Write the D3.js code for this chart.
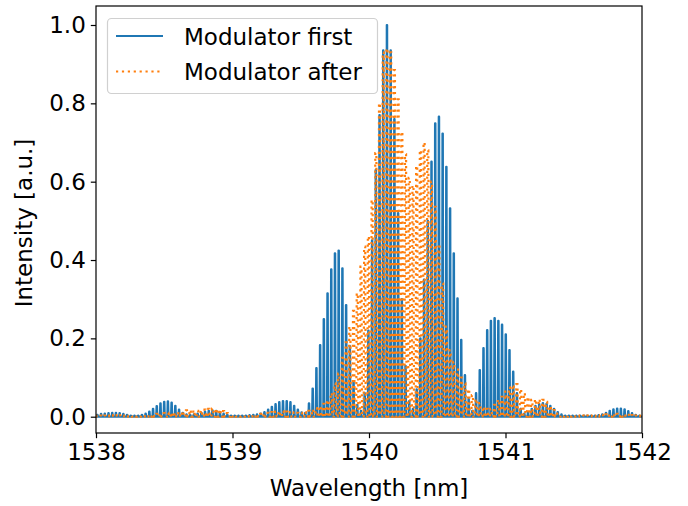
<!DOCTYPE html>
<html>
<head>
<meta charset="utf-8">
<script src="https://cdn.jsdelivr.net/npm/d3@7"></script>
<style>
  body { margin: 0; background: #fff; }
  text { font-family: "DejaVu Sans", sans-serif; fill: #000; }
</style>
</head>
<body>
<div id="canvas"></div>
<script>
// comb lines: first line and spacing (nm), heights
const combStart = 1538.010;
const combSpacing = 0.0272;

const modulatorFirst = [
  0.005, 0.007, 0.008, 0.009, 0.010, 0.010, 0.009, 0.007, 0.005, 0.003,
  0.003, 0.003, 0.005, 0.008, 0.013, 0.020, 0.027, 0.034, 0.038, 0.039,
  0.036, 0.028, 0.018, 0.010, 0.006, 0.005, 0.006, 0.008, 0.010, 0.013,
  0.015, 0.016, 0.015, 0.012, 0.008, 0.005, 0.003, 0.003, 0.003, 0.003,
  0.003, 0.004, 0.005, 0.006, 0.008, 0.012, 0.018, 0.025, 0.032, 0.037,
  0.040, 0.040, 0.037, 0.028, 0.018, 0.011, 0.010, 0.034, 0.072, 0.124,
  0.183, 0.249, 0.315, 0.376, 0.417, 0.424, 0.379, 0.285, 0.180, 0.090,
  0.030, 0.015, 0.060, 0.220, 0.450, 0.630, 0.770, 0.935, 1.000, 0.935,
  0.760, 0.520, 0.300, 0.130, 0.040, 0.020, 0.070, 0.200, 0.350, 0.500,
  0.651, 0.749, 0.766, 0.723, 0.638, 0.532, 0.417, 0.302, 0.196, 0.106,
  0.045, 0.015, 0.060, 0.119, 0.175, 0.221, 0.245, 0.252, 0.245, 0.235,
  0.210, 0.170, 0.115, 0.060, 0.020, 0.008, 0.012, 0.020, 0.028, 0.032,
  0.035, 0.033, 0.028, 0.020, 0.012, 0.006, 0.003, 0.003, 0.003, 0.003,
  0.003, 0.003, 0.003, 0.003, 0.003, 0.004, 0.006, 0.010, 0.015, 0.019,
  0.021, 0.021, 0.019, 0.014, 0.009, 0.005, 0.003
];

const modulatorAfter = [
  0.003, 0.003, 0.003, 0.003, 0.004, 0.004, 0.004, 0.003, 0.003, 0.003,
  0.003, 0.003, 0.003, 0.004, 0.005, 0.006, 0.007, 0.008, 0.009, 0.010,
  0.010, 0.010, 0.012, 0.014, 0.016, 0.017, 0.016, 0.015, 0.016, 0.018,
  0.020, 0.021, 0.020, 0.018, 0.014, 0.009, 0.005, 0.004, 0.003, 0.003,
  0.003, 0.004, 0.005, 0.006, 0.007, 0.008, 0.010, 0.012, 0.013, 0.014,
  0.014, 0.013, 0.012, 0.011, 0.010, 0.010, 0.012, 0.015, 0.018, 0.022,
  0.027, 0.033, 0.042, 0.060, 0.085, 0.110, 0.150, 0.190, 0.230, 0.270,
  0.315, 0.383, 0.434, 0.460, 0.553, 0.673, 0.800, 0.930, 0.940, 0.930,
  0.885, 0.810, 0.727, 0.670, 0.610, 0.590, 0.640, 0.680, 0.700, 0.680,
  0.600, 0.536, 0.434, 0.340, 0.230, 0.170, 0.140, 0.120, 0.100, 0.085,
  0.070, 0.055, 0.045, 0.035, 0.025, 0.020, 0.020, 0.030, 0.043, 0.051,
  0.064, 0.075, 0.081, 0.083, 0.070, 0.060, 0.050, 0.043, 0.044, 0.044,
  0.043, 0.038, 0.027, 0.017, 0.008, 0.004, 0.004, 0.004, 0.003, 0.003,
  0.003, 0.003, 0.003, 0.003, 0.003, 0.004, 0.005, 0.006, 0.006, 0.007,
  0.007, 0.006, 0.006, 0.005, 0.004, 0.003, 0.003
];

const seriesNames = ["Modulator first", "Modulator after"];
const wavelengthTicks = [1538, 1539, 1540, 1541, 1542];
const intensityTicks = [0.0, 0.2, 0.4, 0.6, 0.8, 1.0];

const width = 688;
const height = 506;
const margin = { top: 6, left: 96, bottom: 73, right: 46 };
const iwidth = width - margin.left - margin.right;
const iheight = height - margin.top - margin.bottom;

const svg = d3.select("#canvas").append("svg")
  .attr("width", width)
  .attr("height", height);

const g = svg.append("g")
  .attr("transform", `translate(${margin.left},${margin.top})`);

const x = d3.scaleLinear().domain([1538, 1542]).range([0, iwidth]);
const y = d3.scaleLinear().domain([-0.0416, 1.0485]).range([iheight, 0]);

svg.append("defs").append("clipPath").attr("id", "plot-clip")
  .append("rect").attr("width", iwidth).attr("height", iheight);

// each comb line is a narrow spike up from the baseline
const combPoints = (peaks, base, top) => {
  const pts = [[1538, 0]];
  peaks.forEach((p, i) => {
    const w = combStart + i * combSpacing;
    pts.push([w - base, 0], [w - top, p], [w + top, p], [w + base, 0]);
  });
  pts.push([1542, 0]);
  return pts;
};

const line = d3.line().x((d) => x(d[0])).y((d) => y(d[1]));

const plot = g.append("g").attr("clip-path", "url(#plot-clip)");

plot.append("path")
  .datum(combPoints(modulatorFirst, 0.004, 0.0012))
  .attr("d", line)
  .attr("fill", "none")
  .attr("stroke", "#1f77b4")
  .attr("stroke-width", 2.2)
  .attr("stroke-linejoin", "round");

plot.append("path")
  .datum(combPoints(modulatorAfter, 0.0075, 0.004))
  .attr("d", line)
  .attr("fill", "none")
  .attr("stroke", "#ff7f0e")
  .attr("stroke-width", 2.2)
  .attr("stroke-dasharray", "2.2,3.7");

// axes
const xAxis = g.append("g")
  .attr("transform", `translate(0,${iheight})`)
  .call(d3.axisBottom(x).tickValues(wavelengthTicks).tickFormat(d3.format("d")).tickSize(5.2).tickPadding(5));

const yAxis = g.append("g")
  .call(d3.axisLeft(y).tickValues(intensityTicks).tickFormat(d3.format(".1f")).tickSize(5.2).tickPadding(5));

[xAxis, yAxis].forEach((a) => {
  a.select(".domain").remove();
  a.selectAll("line").attr("stroke", "#000").attr("stroke-width", 1.2);
  a.selectAll("text").style("font-size", "23px").attr("fill", "#000");
});

g.append("rect")
  .attr("width", iwidth)
  .attr("height", iheight)
  .attr("fill", "none")
  .attr("stroke", "#000")
  .attr("stroke-width", 1.2);

svg.append("text")
  .attr("x", margin.left + iwidth / 2)
  .attr("y", 496)
  .attr("text-anchor", "middle")
  .style("font-size", "23px")
  .text("Wavelength [nm]");

svg.append("text")
  .attr("transform", "translate(32,223) rotate(-90)")
  .attr("text-anchor", "middle")
  .style("font-size", "23px")
  .text("Intensity [a.u.]");

// legend
const legend = svg.append("g");
legend.append("rect")
  .attr("x", 107.5).attr("y", 18.5)
  .attr("width", 270).attr("height", 75)
  .attr("rx", 4)
  .attr("fill", "#fff").attr("fill-opacity", 0.8)
  .attr("stroke", "#d0d0d0").attr("stroke-width", 1.2);

const styles = [
  { color: "#1f77b4", dash: null },
  { color: "#ff7f0e", dash: "2.2,3.7" }
];
seriesNames.forEach((name, i) => {
  const yy = 36 + i * 35.5;
  legend.append("line")
    .attr("x1", 116).attr("x2", 163)
    .attr("y1", yy).attr("y2", yy)
    .attr("stroke", styles[i].color)
    .attr("stroke-width", 2.2)
    .attr("stroke-dasharray", styles[i].dash);
  legend.append("text")
    .attr("x", 184)
    .attr("y", yy + 8.5)
    .style("font-size", "23px")
    .text(name);
});
</script>
</body>
</html>
